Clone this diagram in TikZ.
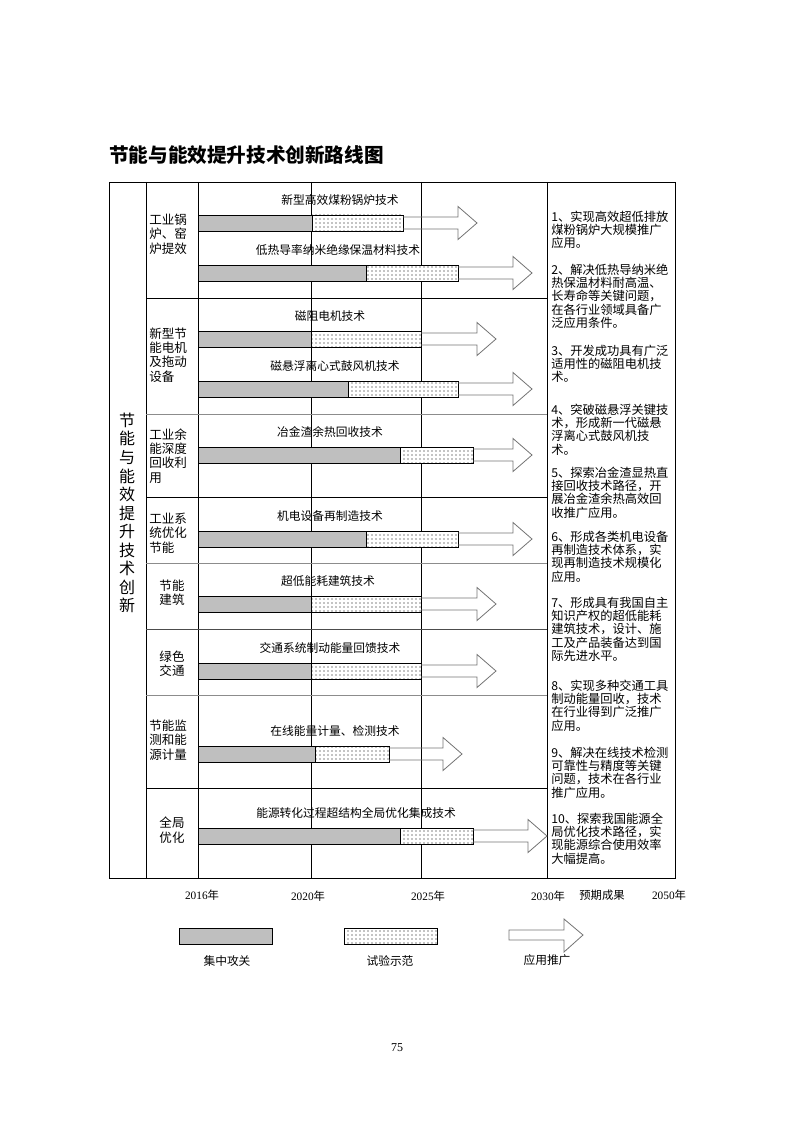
\documentclass[tikz,border=0pt]{standalone}
\usepackage{fontspec}
\setmainfont{Noto Sans CJK SC}
\newfontfamily\lat{Liberation Serif}
\usepackage{tikz}
\usetikzlibrary{patterns}
\XeTeXlinebreaklocale "zh"
\XeTeXlinebreakskip=0pt plus 2pt

% one full, stretched line of the results column
\newcommand{\fl}[1]{\makebox[88.5pt][s]{#1}\\}

\begin{document}
\begin{tikzpicture}[x=0.75pt,y=-0.75pt,
    bartxt/.style={font=\fontsize{8.8}{10}\selectfont},
    cattxt/.style={font=\fontsize{9.4}{10.8}\selectfont, align=left, inner sep=0pt},
    restxt/.style={font=\fontsize{9.2}{10}\selectfont, align=left, inner sep=0pt, anchor=north west},
    yeartxt/.style={font=\lat\fontsize{8.5}{10}\selectfont},
    work/.style={draw=black, fill=black!25},
    demo/.style={draw=black, fill=white, postaction={pattern=dots}},
    push/.style={draw=black!55, line width=0.6pt}]
    \useasboundingbox (0,0) rectangle (794,1123);

    \node[anchor=west, font=\fontsize{14.7}{16}\selectfont\bfseries, inner sep=0pt] (title) at (109,155) {节能与能效提升技术创新路线图};

    % table frame
    \foreach \x in {146,198,311,421,547}
        \draw (\x,182) -- (\x,878);
    \foreach \y/\c in {298/black,414/black!45,497/black,563/black!45,629/black!70,695/black!45,788/black}
        \draw[\c] (146,\y) -- (547,\y);
    \draw (109,182) rectangle (675,878);

    \node[font=\fontsize{12}{13.9}\selectfont, align=center, inner sep=0pt] (side) at (127,513) {节\\能\\与\\能\\效\\提\\升\\技\\术\\创\\新};

    \node[cattxt, anchor=west] (cat1) at (149,234) {工业锅\\炉、窑\\炉提效};
    \node[cattxt, anchor=west] (cat2) at (149,355) {新型节\\能电机\\及拖动\\设备};
    \node[cattxt, anchor=west] (cat3) at (149,456) {工业余\\能深度\\回收利\\用};
    \node[cattxt, anchor=west] (cat4) at (149,533) {工业系\\统优化\\节能};
    \node[cattxt, align=center] (cat5) at (172,593) {节能\\建筑};
    \node[cattxt, align=center] (cat6) at (172,664) {绿色\\交通};
    \node[cattxt, anchor=west] (cat7) at (149,740) {节能监\\测和能\\源计量};
    \node[cattxt, align=center] (cat8) at (172,830) {全局\\优化};

    % bars: top / end of grey / end of dots / arrow head base / label x
    \foreach \yt/\xg/\xd/\xb/\lx/\txt [count=\i] in {
        215/312/403/458/340/新型高效煤粉锅炉技术,
        265/366/458/513/338/低热导率纳米绝缘保温材料技术,
        331/311/421/477/330/磁阻电机技术,
        381/348/458/513/335/磁悬浮离心式鼓风机技术,
        447/400/473/513/330/冶金渣余热回收技术,
        531/366/458/513/330/机电设备再制造技术,
        596/311/421/477/328/超低能耗建筑技术,
        663/311/421/477/330/交通系统制动能量回馈技术,
        746/315/389/443/335/在线能量计量、检测技术,
        828/400/473/528/356/能源转化过程超结构全局优化集成技术}{
        \pgfmathsetmacro{\ym}{\yt+8}
        \draw[work] (198,\yt) rectangle (\xg,\yt+16);
        \draw[demo] (\xg,\yt) rectangle (\xd,\yt+16);
        \draw[push] (\xd,\ym-6) -- (\xb,\ym-6) -- (\xb,\ym-16.5) -- (\xb+19,\ym)
            -- (\xb,\ym+16.5) -- (\xb,\ym+6) -- (\xd,\ym+6);
        \node[bartxt] (tech\i) at (\lx,\yt-15) {\txt};
    }

    % expected results
    \node[restxt] (res1) at (551,210.5) {\fl{1、实现高效超低排放}\fl{煤粉锅炉大规模推广}应用。};
    \node[restxt] (res2) at (551,263.5) {\fl{2、解决低热导纳米绝}\fl{热保温材料耐高温、}\fl{长寿命等关键问题，}\fl{在各行业领域具备广}泛应用条件。};
    \node[restxt] (res3) at (551,344.5) {\fl{3、开发成功具有广泛}\fl{适用性的磁阻电机技}术。};
    \node[restxt] (res4) at (551,403.5) {\fl{4、突破磁悬浮关键技}\fl{术，形成新一代磁悬}\fl{浮离心式鼓风机技}术。};
    \node[restxt] (res5) at (551,466.5) {\fl{5、探索冶金渣显热直}\fl{接回收技术路径，开}\fl{展冶金渣余热高效回}收推广应用。};
    \node[restxt] (res6) at (551,530.5) {\fl{6、形成各类机电设备}\fl{再制造技术体系，实}\fl{现再制造技术规模化}应用。};
    \node[restxt] (res7) at (551,596.5) {\fl{7、形成具有我国自主}\fl{知识产权的超低能耗}\fl{建筑技术，设计、施}\fl{工及产品装备达到国}际先进水平。};
    \node[restxt] (res8) at (551,679.5) {\fl{8、实现多种交通工具}\fl{制动能量回收，技术}\fl{在行业得到广泛推广}应用。};
    \node[restxt] (res9) at (551,746.5) {\fl{9、解决在线技术检测}\fl{可靠性与精度等关键}\fl{问题，技术在各行业}推广应用。};
    \node[restxt] (res10) at (551,812.5) {\fl{10、探索我国能源全}\fl{局优化技术路径，实}\fl{现能源综合使用效率}大幅提高。};

    % time axis
    \node[yeartxt] (y2016) at (202,895) {2016{\rmfamily\fontspec{Noto Sans CJK SC}年}};
    \node[yeartxt] (y2020) at (308,896) {2020{\fontspec{Noto Sans CJK SC}年}};
    \node[yeartxt] (y2025) at (428,896) {2025{\fontspec{Noto Sans CJK SC}年}};
    \node[yeartxt] (y2030) at (548,896) {2030{\fontspec{Noto Sans CJK SC}年}};
    \node[font=\fontsize{8.5}{10}\selectfont] (goal) at (602,895) {预期成果};
    \node[yeartxt] (y2050) at (669,895) {2050{\fontspec{Noto Sans CJK SC}年}};

    % legend
    \draw[work] (179,928) rectangle (272,944);
    \node[bartxt] (lgwork) at (227,961) {集中攻关};
    \draw[demo] (344,928) rectangle (437,944);
    \node[bartxt] (lgdemo) at (390,961) {试验示范};
    \draw[push] (509,930) -- (564,930) -- (564,919) -- (583,935) -- (564,952) -- (564,940) -- (509,940) -- cycle;
    \node[bartxt] (lgpush) at (547,960) {应用推广};

    \node[font=\lat\fontsize{9}{10}\selectfont] (page) at (397,1048) {75};
\end{tikzpicture}
\end{document}
